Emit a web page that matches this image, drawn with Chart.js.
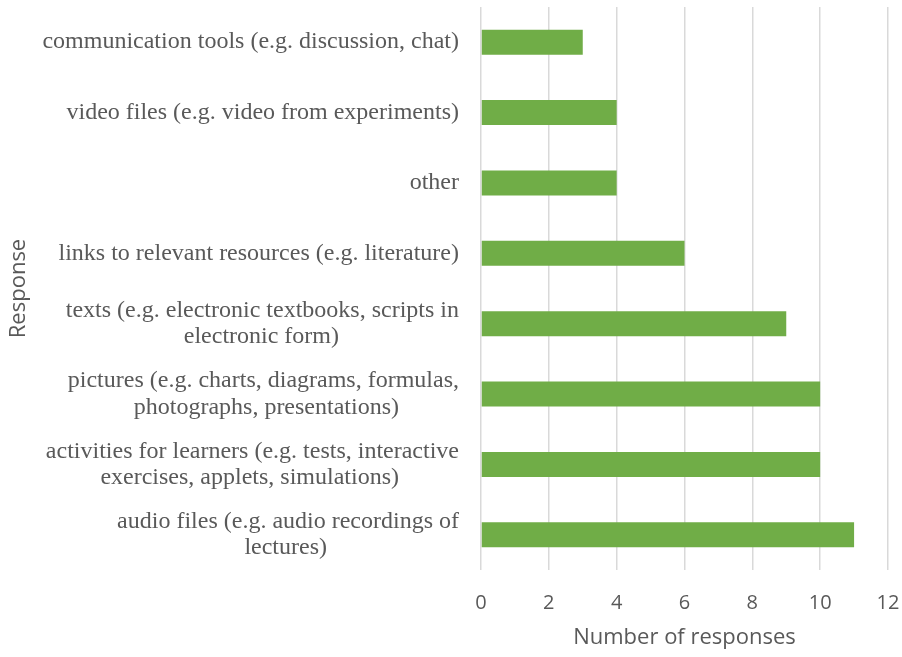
<!DOCTYPE html>
<html>
<head>
<meta charset="utf-8">
<script src="https://cdn.jsdelivr.net/npm/chart.js@4/dist/chart.umd.min.js"></script>
<style>
html,body{margin:0;padding:0;background:#fff;}
#wrap{width:902px;height:657px;position:relative;}
</style>
</head>
<body>
<div id="wrap"><canvas id="c" width="902" height="657"></canvas></div>
<script>
const categories = [
  ["communication tools (e.g. discussion, chat)"],
  ["video files (e.g. video from experiments)"],
  ["other"],
  ["links to relevant resources (e.g. literature)"],
  ["texts (e.g. electronic textbooks, scripts in", "electronic form)"],
  ["pictures (e.g. charts, diagrams, formulas,", "photographs, presentations)"],
  ["activities for learners (e.g. tests, interactive", "exercises, applets, simulations)"],
  ["audio files (e.g. audio recordings of", "lectures)"]
];
const responses = [3, 4, 4, 6, 9, 10, 10, 11];
const xTicks = [0, 2, 4, 6, 8, 10, 12];

const serifFont = {family: "'Liberation Serif', 'Times New Roman', serif", size: 24, lineHeight: 1.1};
const sansFont = "'Open Sans', 'Liberation Sans', sans-serif";

// centre shorter lines under the widest line of each label (right-aligned text)
const mctx = document.createElement('canvas').getContext('2d');
mctx.font = serifFont.size + "px " + serifFont.family;
const spaceW = mctx.measureText(' ').width;
function centredLines(lines) {
  if (lines.length < 2) return lines[0];
  const widths = lines.map(l => mctx.measureText(l).width);
  const W = Math.max(...widths);
  return lines.map((l, i) => l + ' '.repeat(Math.max(0, Math.round((W - widths[i]) / 2 / spaceW))));
}
const labels = categories.map(centredLines);

new Chart(document.getElementById('c'), {
  type: 'bar',
  data: {
    labels: labels,
    datasets: [{
      data: responses,
      backgroundColor: '#70AD47',
      borderWidth: 0,
      barPercentage: 0.71,
      categoryPercentage: 0.5
    }]
  },
  options: {
    indexAxis: 'y',
    responsive: false,
    animation: false,
    layout: {padding: {top: 7, right: 14, left: 0, bottom: 0}},
    plugins: {legend: {display: false}, tooltip: {enabled: false}},
    scales: {
      x: {
        min: 0, max: 12,
        afterBuildTicks: s => { s.ticks = xTicks.map(v => ({value: v})); },
        grid: {color: '#d9d9d9', lineWidth: 1.5, drawTicks: false},
        border: {display: false},
        ticks: {color: '#595959', font: {family: sansFont, size: 20}, padding: 21},
        title: {display: true, text: 'Number of responses', color: '#595959',
                font: {family: sansFont, size: 22}, padding: {top: 0, bottom: 6}},
        afterFit: s => { s.height = 87; s.paddingLeft = 0; s.paddingRight = 0; }
      },
      y: {
        grid: {display: false, drawTicks: false},
        border: {display: false},
        ticks: {color: '#595959', font: serifFont, padding: 22, autoSkip: false,
                crossAlign: 'near'},
        title: {display: true, text: 'Response', color: '#595959',
                font: {family: sansFont, size: 22}, padding: {top: 6, bottom: 0}},
        afterFit: s => { s.width = 481; s.paddingTop = 0; s.paddingBottom = 0; }
      }
    }
  }
});
</script>
</body>
</html>
